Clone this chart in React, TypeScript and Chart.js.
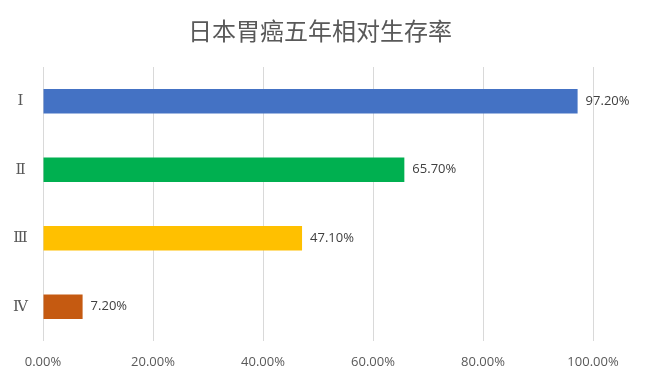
import React, { useEffect, useRef } from "react";
import { Chart, registerables } from "chart.js";

Chart.register(...registerables);

const title = "日本胃癌五年相对生存率";
const categories = ["Ⅰ", "Ⅱ", "Ⅲ", "Ⅳ"];
const survivalRates = [97.2, 65.7, 47.1, 7.2];
const axisMin = 0;
const axisMax = 100;
const axisStep = 20;

const barColors = ["#4472C4", "#00B050", "#FFC000", "#C55A11"];
const textColor = "#595959";
const gridColor = "#D9D9D9";
const latinFont = '"Open Sans", "Liberation Sans", sans-serif';

const fmt = (v: number) => v.toFixed(2) + "%";

const valueLabels = {
  id: "valueLabels",
  afterDatasetsDraw(chart: any) {
    const ctx = chart.ctx;
    const meta = chart.getDatasetMeta(0);
    const data = chart.data.datasets[0].data as number[];
    ctx.save();
    ctx.font = `13px ${latinFont}`;
    ctx.fillStyle = "#404040";
    ctx.textAlign = "left";
    ctx.textBaseline = "middle";
    meta.data.forEach((el: any, i: number) => {
      ctx.fillText(fmt(data[i]), el.x + 8, el.y);
    });
    ctx.restore();
  },
};

const centeredTitle = {
  id: "centeredTitle",
  afterDraw(chart: any) {
    const ctx = chart.ctx;
    ctx.save();
    ctx.font = `24px "Noto Sans CJK SC", sans-serif`;
    ctx.fillStyle = textColor;
    ctx.textAlign = "center";
    ctx.textBaseline = "middle";
    ctx.fillText(title, 320, 31);
    ctx.restore();
  },
};

export default function App() {
  const ref = useRef<HTMLCanvasElement | null>(null);

  useEffect(() => {
    if (!ref.current) return;
    const chart = new Chart(ref.current, {
      type: "bar",
      data: {
        labels: categories,
        datasets: [
          {
            data: survivalRates,
            backgroundColor: barColors,
            borderWidth: 0,
            barPercentage: 0.36,
            categoryPercentage: 1,
          },
        ],
      },
      options: {
        indexAxis: "y",
        responsive: true,
        maintainAspectRatio: false,
        animation: false,
        layout: { padding: { left: 0, right: 53, top: 67, bottom: 0 } },
        plugins: {
          legend: { display: false },
          tooltip: { enabled: false },
          title: { display: false },
        },
        scales: {
          x: {
            min: axisMin,
            max: axisMax,
            grid: { color: gridColor, drawTicks: false, lineWidth: 1 },
            border: { display: false },
            ticks: {
              stepSize: axisStep,
              padding: 13,
              color: textColor,
              font: { family: latinFont, size: 13 },
              callback: (v: any) => fmt(Number(v)),
            },
            afterFit: (scale: any) => {
              scale.height = 45;
            },
          },
          y: {
            grid: { display: false },
            border: { display: false },
            ticks: {
              color: textColor,
              crossAlign: "center",
              padding: 7,
              font: {
                family: '"DejaVu Serif", "Liberation Serif", serif',
                size: 15,
              },
            },
            afterFit: (scale: any) => {
              scale.width = 43;
            },
          },
        },
      },
      plugins: [valueLabels, centeredTitle],
    });
    return () => chart.destroy();
  }, []);

  return (
    <div
      style={{
        position: "fixed",
        left: 0,
        top: 0,
        width: 646,
        height: 386,
        background: "#ffffff",
      }}
    >
      <canvas ref={ref} />
    </div>
  );
}
